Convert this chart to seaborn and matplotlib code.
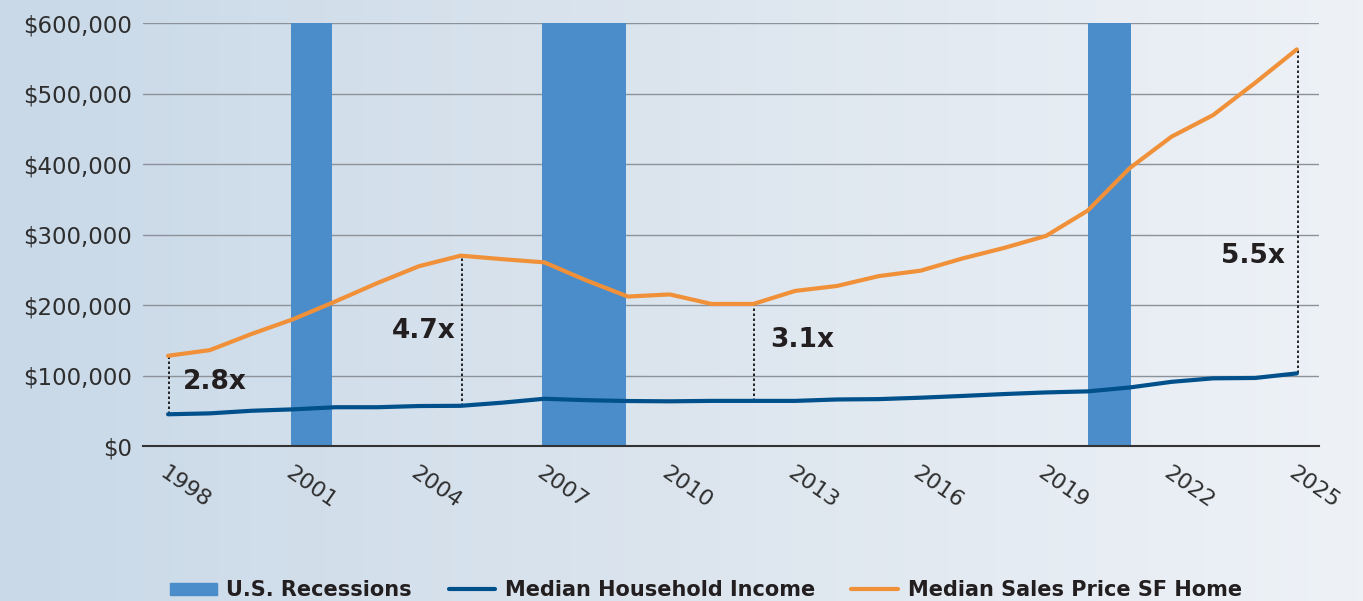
import numpy as np
import pandas as pd
import matplotlib
matplotlib.use("Agg")
import matplotlib.pyplot as plt
import matplotlib.patches as mpatches
from matplotlib.lines import Line2D
from matplotlib.colors import LinearSegmentedColormap
import seaborn as sns

# data
years = list(range(1998, 2026))
income = [45000, 46300, 50000, 52000, 55000, 55000, 56700, 57000, 61500, 67000,
          65000, 63800, 63400, 64000, 64000, 64000, 66000, 66500, 68500, 71000,
          73700, 76000, 77500, 83000, 91000, 96000, 96500, 103000]
price = [128000, 136000, 159000, 180000, 205000, 231000, 255000, 270000, 265000, 260500,
         235000, 212000, 215000, 201500, 201500, 220000, 227000, 241000, 248700, 266000,
         281000, 298000, 334000, 394000, 438700, 469500, 515000, 562600]
recession_start = [2000.93, 2006.95, 2020.0]
recession_end = [2001.93, 2008.95, 2021.03]
ratio_years = [1998, 2005, 2012, 2025]
ratio_labels = ["2.8x", "4.7x", "3.1x", "5.5x"]

df = pd.DataFrame({"Year": years, "Income": income, "Price": price})

sns.set_theme(style="white")
plt.rcParams["font.family"] = ["DejaVu Sans"]

c_rec = "#4a8dca"
c_inc = "#00508b"
c_price = "#f0913a"
c_text = "#231f20"

fig = plt.figure(figsize=(13.63, 6.01), dpi=100)

# background gradient
bg = fig.add_axes([0, 0, 1, 1], zorder=-10)
cmap = LinearSegmentedColormap.from_list("bg", ["#c9d9e8", "#dce5ee", "#eef2f7"])
grad = np.linspace(0, 1, 256).reshape(1, -1)
bg.imshow(grad, aspect="auto", cmap=cmap, extent=[0, 1, 0, 1])
bg.axis("off")

ax = fig.add_axes([0.1049, 0.2579, 0.8628, 0.7038])
ax.patch.set_alpha(0)

for s, e in zip(recession_start, recession_end):
    ax.axvspan(s, e, color=c_rec, lw=0, zorder=1)

sns.lineplot(data=df, x="Year", y="Income", color=c_inc, lw=3, ax=ax, zorder=3)
sns.lineplot(data=df, x="Year", y="Price", color=c_price, lw=3, ax=ax, zorder=3)

# dotted connectors between the two series
for yr in ratio_years:
    i = years.index(yr)
    ax.vlines(yr + 0.02, income[i], price[i], colors="black", linestyles=(0, (1.5, 1.5)), lw=1.2, zorder=2)

label_pos = [(1998.35, 91000, "left"), (2004.87, 163000, "right"),
             (2012.4, 150000, "left"), (2024.72, 270000, "right")]
for (x, y, ha), lab in zip(label_pos, ratio_labels):
    ax.text(x, y, lab, ha=ha, va="center", fontsize=19, fontweight="bold", color=c_text, zorder=4)

ax.set_xlim(1997.4, 2025.53)
ax.set_ylim(0, 600000)
ax.set_yticks(range(0, 600001, 100000))
ax.set_yticklabels([f"${v:,.0f}" for v in range(0, 600001, 100000)])
ax.set_xticks(range(1998, 2026, 3))
ax.set_xticklabels([str(y) for y in range(1998, 2026, 3)], rotation=-35,
                   ha="left", va="top", rotation_mode="anchor")
ax.tick_params(axis="y", length=0, labelsize=16.5, labelcolor="#2e2e2e", pad=8)
ax.tick_params(axis="x", length=0, labelsize=16, labelcolor="#2e2e2e", pad=12)
ax.grid(axis="y", color="#8c9299", lw=1)
ax.set_axisbelow(True)
for side in ["top", "right", "left"]:
    ax.spines[side].set_visible(False)
ax.spines["bottom"].set_color("#333333")
ax.spines["bottom"].set_linewidth(1.5)
ax.spines["bottom"].set_zorder(5)
ax.set_xlabel("")
ax.set_ylabel("")

handles = [mpatches.Patch(color=c_rec, label="U.S. Recessions"),
           Line2D([0], [0], color=c_inc, lw=3, label="Median Household Income"),
           Line2D([0], [0], color=c_price, lw=3, label="Median Sales Price SF Home")]
leg = fig.legend(handles=handles, loc="center", bbox_to_anchor=(0.518, 0.018), ncol=3, frameon=False,
                 prop={"size": 15, "weight": "bold"}, handlelength=2.25, handleheight=0.55,
                 columnspacing=1.75, handletextpad=0.45)
for t in leg.get_texts():
    t.set_color(c_text)

fig.savefig("out.png", dpi=100)
